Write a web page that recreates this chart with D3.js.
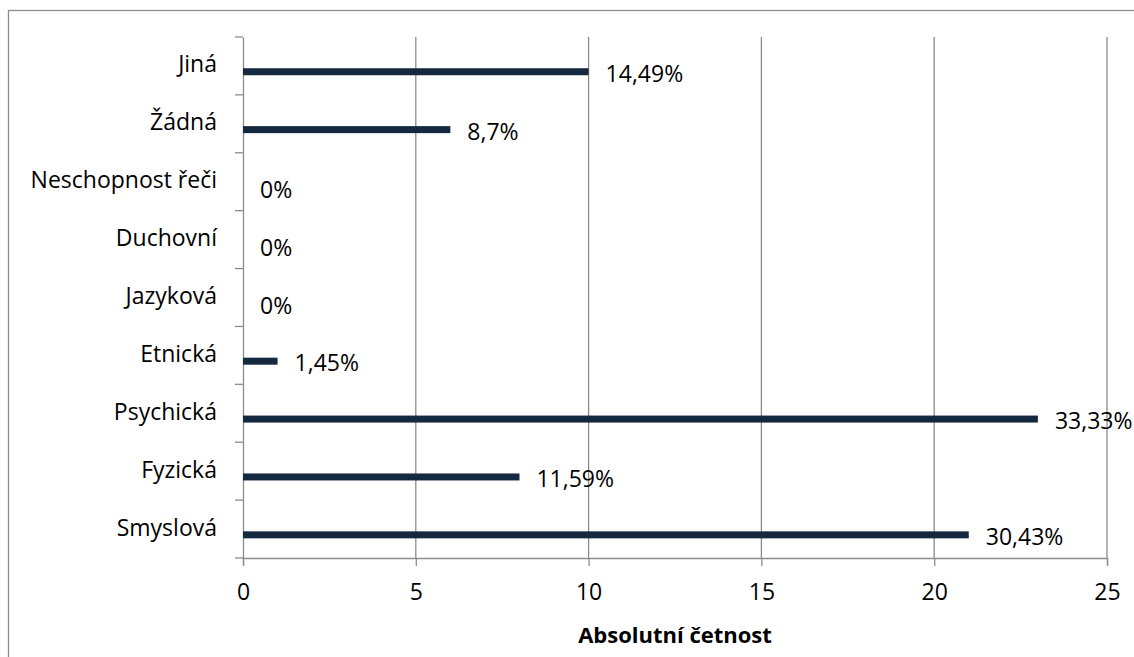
<!DOCTYPE html>
<html><head><meta charset="utf-8">
<script src="https://cdn.jsdelivr.net/npm/d3@7"></script>
<style>body{margin:0;background:#fff}svg{display:block}text{font-family:"Open Sans",sans-serif;fill:#000}</style>
</head><body><svg id="c" width="1134" height="657"></svg>
<script>
const categories = ["Jiná","Žádná","Neschopnost řeči","Duchovní","Jazyková","Etnická","Psychická","Fyzická","Smyslová"];
const values = [10,6,0,0,0,1,23,8,21];
const percentLabels = ["14,49%","8,7%","0%","0%","0%","1,45%","33,33%","11,59%","30,43%"];
const xTicks = [0,5,10,15,20,25];
const xTitle = "Absolutní četnost";

const FONT = "Open Sans";
const FS = 23;
const svg = d3.select("#c");
const L = 243, R = 1107, T = 37, B = 558;
const x = d3.scaleLinear().domain([0,25]).range([L,R]);
const y = d3.scaleBand().domain(categories).range([T,B]);
const grey = "#8c8c8c";

// outer border
svg.append("rect").attr("x",8.5).attr("y",10.5).attr("width",1140).attr("height",660)
  .attr("fill","none").attr("stroke",grey).attr("stroke-width",1.3);

// gridlines
svg.append("g").selectAll("line").data(xTicks.slice(1)).join("line")
  .attr("x1",d=>x(d)).attr("x2",d=>x(d)).attr("y1",T).attr("y2",B)
  .attr("stroke",grey).attr("stroke-width",1.3);

// x axis
const xa = svg.append("g").attr("transform",`translate(0,${B})`)
  .call(d3.axisBottom(x).tickValues(xTicks).tickSize(8).tickPadding(18).tickFormat(d=>d));
xa.select(".domain").attr("stroke",grey).attr("stroke-width",1.3);
xa.selectAll(".tick line").attr("stroke",grey).attr("stroke-width",1.3);
xa.selectAll(".tick text").attr("font-size",FS).attr("font-family",FONT).attr("fill","#000");

// y axis
const ya = svg.append("g").attr("transform",`translate(${L},0)`)
  .call(d3.axisLeft(y).tickSize(0).tickPadding(26));
ya.select(".domain").attr("stroke",grey).attr("stroke-width",1.3);
ya.selectAll(".tick text").attr("font-size",FS).attr("font-family",FONT).attr("fill","#000").attr("dy","0.28em");
// boundary ticks
const bounds = categories.map(c=>y(c)).concat([B]);
svg.append("g").selectAll("line").data(bounds).join("line")
  .attr("x1",L-8).attr("x2",L).attr("y1",d=>d).attr("y2",d=>d)
  .attr("stroke",grey).attr("stroke-width",1.3);

// bars
const barOff = y.bandwidth()*0.6, barH = 7;
svg.append("g").selectAll("rect").data(categories).join("rect")
  .attr("x",L).attr("y",(c)=>y(c)+barOff-barH/2)
  .attr("width",(c,i)=>x(values[i])-L).attr("height",barH)
  .attr("fill","#14283f");

// labels
svg.append("g").selectAll("text").data(categories).join("text")
  .attr("x",(c,i)=>x(values[i])+17).attr("y",c=>y(c)+barOff+2)
  .attr("dy","0.36em").attr("font-size",FS)
  .text((c,i)=>percentLabels[i]);

// x title
svg.append("text").attr("x",(L+R)/2).attr("y",635).attr("dy","0.36em")
  .attr("text-anchor","middle").attr("font-size",22).attr("font-weight","bold").text(xTitle);
</script></body></html>
